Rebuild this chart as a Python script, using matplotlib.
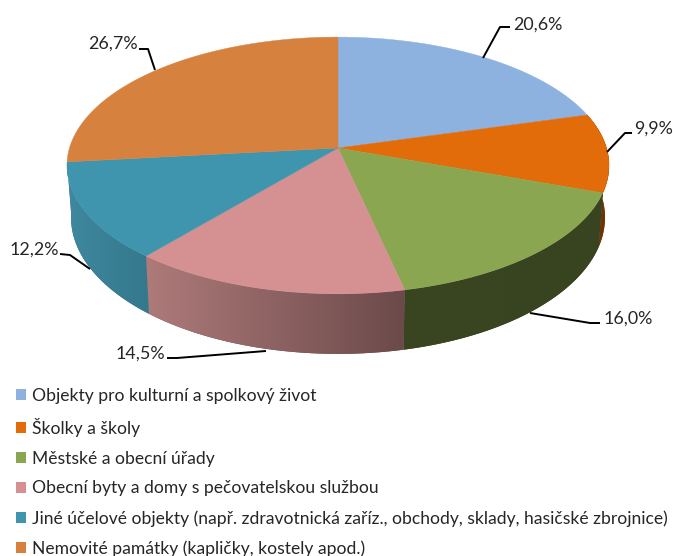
import numpy as np
import matplotlib
matplotlib.use("Agg")
import matplotlib.pyplot as plt
from matplotlib.patches import Polygon, Patch

categories = ["Objekty pro kulturní a spolkový život", "Školky a školy", "Městské a obecní úřady",
              "Obecní byty a domy s pečovatelskou službou",
              "Jiné účelové objekty (např. zdravotnická zaříz., obchody, sklady, hasičské zbrojnice)",
              "Nemovité památky (kapličky, kostely apod.)"]
values = [20.6, 9.9, 16.0, 14.5, 12.2, 26.7]
value_labels = ["20,6%", "9,9%", "16,0%", "14,5%", "12,2%", "26,7%"]

top_colors = ["#8DB2E0", "#E26B0A", "#8AA650", "#D59092", "#4095AE", "#D7813E"]
side_left = [None, "#6E3503", "#3A4520", "#AE7A7A", "#3F889F", None]
side_right = [None, "#6E3503", "#384320", "#6C4A4A", "#34788C", None]

# label text anchors and leader paths, in pixels
label_xy = [(513, 25), (634, 129), (604, 319), (116, 354), (10, 250), (88, 44)]
leaders = [[(483, 58), (500, 27), (510, 27)], [(607, 152), (625, 133), (632, 133)],
           [(530, 313), (590, 323), (600, 323)], [(266, 351), (177, 358), (167, 358)],
           [(90, 269), (70, 255), (60, 254)], [(155, 70), (148, 49), (139, 49)]]

W, H = 673, 556
FONT = "Lato"
fig = plt.figure(figsize=(W / 100, H / 100), dpi=100)
ax = fig.add_axes([0, 0, 1, 1])
ax.axis("off")

CX, CY, R, S, K = 338.0, 148.0, 268.5, 126.0, 0.136


def top_pt(t):
    u, v = np.sin(t), np.cos(t)
    d = 1 + K * v
    return CX + R * u / d, CY - S * v / d


def bottom_pt(t):
    x, y = top_pt(t)
    return CX + (x - CX) * 0.985, 199 + 1.062 * (y - CY)


frac = np.array(values) / np.sum(values)
edges = np.concatenate([[0], np.cumsum(frac)]) * 2 * np.pi

# sides: a left-to-right gradient clipped to each side's outline
for i in range(len(values)):
    if side_left[i] is None:
        continue
    ts = np.linspace(edges[i], edges[i + 1], 80)
    tx, ty = top_pt(ts)
    bx, by = bottom_pt(ts)
    pts = np.vstack([np.column_stack([tx, ty]), np.column_stack([bx, by])[::-1]])
    outline = Polygon(pts, closed=True, fc=side_right[i], ec="none", zorder=2)
    ax.add_patch(outline)
    c0 = np.array(matplotlib.colors.to_rgb(side_left[i]))
    c1 = np.array(matplotlib.colors.to_rgb(side_right[i]))
    ramp = np.linspace(0, 1, 128)[None, :, None]
    img = c0[None, None, :] + (c1 - c0)[None, None, :] * ramp
    im = ax.imshow(img, extent=(pts[:, 0].min(), pts[:, 0].max(), pts[:, 1].max(), pts[:, 1].min()),
                   aspect="auto", interpolation="bilinear", zorder=2.1)
    im.set_clip_path(outline)

# top surface
for i in range(len(values)):
    ts = np.linspace(edges[i], edges[i + 1], 120)
    xs, ys = top_pt(ts)
    pts = [(CX, CY)] + list(zip(xs, ys))
    ax.add_patch(Polygon(pts, closed=True, fc=top_colors[i], ec=top_colors[i], lw=0.3, zorder=3))

ax.set_xlim(0, W)
ax.set_ylim(H, 0)

# leaders and labels
for txt, (lx, ly), path in zip(value_labels, label_xy, leaders):
    p = np.array(path)
    ax.plot(p[:, 0], p[:, 1], color="black", lw=1.4, zorder=4, solid_capstyle="butt")
    ax.text(lx, ly, txt, family=FONT, fontsize=12.9, color="#262626", va="center", ha="left", zorder=5)

handles = [Patch(fc=c, ec="none") for c in top_colors]
ax.legend(handles, categories, loc="upper left", bbox_to_anchor=(16 / W, 1 - 388 / H), frameon=False,
          prop={"family": FONT, "size": 12.65}, labelcolor="#262626", labelspacing=0.785,
          handlelength=0.57, handleheight=0.57, handletextpad=0.34, borderaxespad=0, borderpad=0)

fig.savefig("out.png", dpi=100, facecolor="white")
